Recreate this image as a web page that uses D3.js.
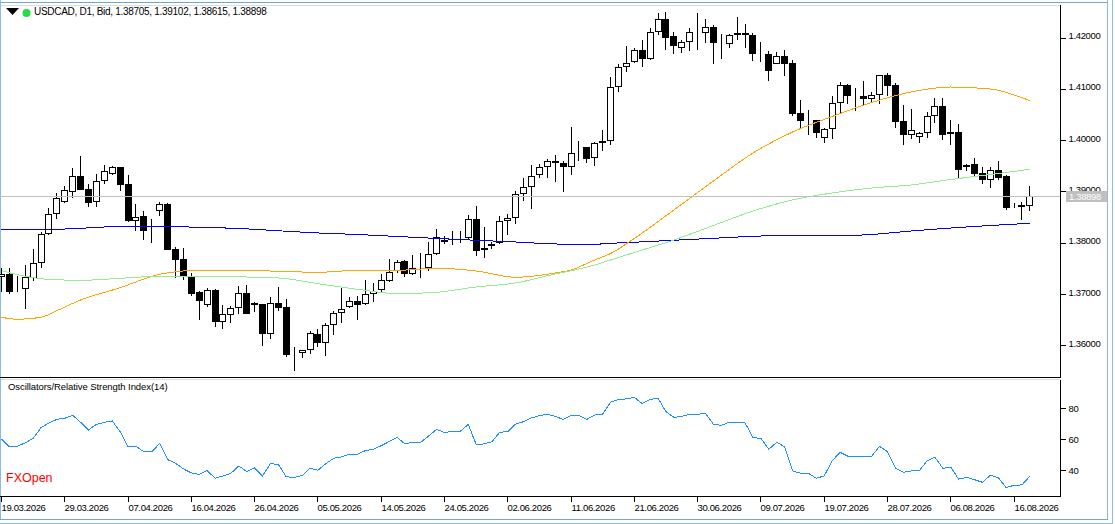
<!DOCTYPE html>
<html>
<head>
<meta charset="utf-8">
<title>USDCAD D1</title>
<script src="https://cdn.jsdelivr.net/npm/d3@7"></script>
<style>
  html, body { margin: 0; padding: 0; background: #fff; overflow: hidden; }
  text { font-family: "Liberation Sans", Arial, sans-serif; font-size: 9.5px; fill: #000; }
  .axis path { display: none; }
  .axis line { stroke: #000; shape-rendering: crispEdges; }
  .axis text { letter-spacing: -0.35px; }
</style>
</head>
<body>
<div id="chart"></div>
<script>
// Values, one entry per daily bar
const priceOpen = [
  1.37318,1.37383,1.37110,1.37097,1.37312,1.37591,1.38156,1.38545,1.38779,1.38987,1.39286,1.39032,1.38779,1.39188,1.39325,1.39461,1.39130,1.38422,1.38506,1.38240,
  1.38604,1.38740,1.37864,1.37669,1.37325,1.37032,1.36786,1.37071,1.36454,1.36591,1.36714,1.37006,1.36818,1.36792,1.36221,1.36812,1.36740,1.35837,1.35837,1.35896,
  1.36214,1.36045,1.36383,1.36617,1.36734,1.36850,1.36792,1.36987,1.37065,1.37240,1.37435,1.37630,1.37390,1.37493,1.37493,1.37766,1.38045,1.38045,1.38071,1.38078,
  1.38455,1.37844,1.37922,1.37980,1.38409,1.38467,1.38935,1.39071,1.39305,1.39461,1.39578,1.39539,1.39461,1.39734,1.39851,1.39636,1.39929,1.39968,1.41020,1.41409,
  1.41507,1.41740,1.41578,1.42091,1.42344,1.42013,1.41779,1.41896,1.42091,1.42072,1.42189,1.41896,1.41857,1.42033,1.42072,1.42033,1.41682,1.41663,1.41481,1.41624,
  1.41487,1.40513,1.40370,1.40377,1.40026,1.40201,1.40708,1.41059,1.40864,1.40851,1.40786,1.40864,1.41253,1.41059,1.40357,1.40097,1.40046,1.40123,1.40455,1.40649,
  1.40104,1.40143,1.39461,1.39520,1.39344,1.39208,1.39403,1.39286,1.38710,1.38721,1.38705
];
const priceHigh = [
  1.37493,1.37493,1.37344,1.37558,1.37864,1.38208,1.38662,1.38955,1.39091,1.39442,1.39675,1.39130,1.39331,1.39500,1.39487,1.39474,1.39305,1.38740,1.38604,1.38448,
  1.38779,1.38760,1.37903,1.37883,1.37396,1.37045,1.37104,1.37091,1.36779,1.36753,1.37143,1.37162,1.36837,1.36800,1.36928,1.37123,1.36896,1.35954,1.35900,1.36266,
  1.36305,1.36422,1.36656,1.37117,1.36928,1.36954,1.37266,1.37201,1.37383,1.37669,1.37656,1.37656,1.37747,1.37786,1.38006,1.38253,1.38123,1.38214,1.38214,1.38532,
  1.38701,1.38299,1.38013,1.38506,1.38552,1.39000,1.39247,1.39500,1.39520,1.39617,1.39695,1.39578,1.40240,1.39968,1.39860,1.39948,1.40182,1.41214,1.41468,1.41825,
  1.41779,1.41935,1.42169,1.42461,1.42481,1.42091,1.41935,1.42169,1.42461,1.42344,1.42228,1.42052,1.42059,1.42383,1.42247,1.42072,1.41896,1.41721,1.41702,1.41740,
  1.41546,1.40766,1.40572,1.40385,1.40221,1.40844,1.41117,1.41085,1.41000,1.41137,1.40922,1.41260,1.41292,1.41098,1.40669,1.40591,1.40143,1.40533,1.40805,1.40805,
  1.40377,1.40299,1.39520,1.39636,1.39461,1.39461,1.39578,1.39305,1.38760,1.38779,1.39102
];
const priceLow = [
  1.37039,1.37000,1.37039,1.36708,1.37253,1.37506,1.38150,1.38448,1.38760,1.38857,1.39015,1.38695,1.38695,1.39136,1.39305,1.39006,1.38403,1.38227,1.38052,1.37993,
  1.38519,1.37850,1.37312,1.37273,1.36961,1.36487,1.36747,1.36357,1.36311,1.36435,1.36604,1.36604,1.36649,1.35987,1.36123,1.36669,1.35772,1.35500,1.35753,1.35831,
  1.35967,1.35792,1.36201,1.36435,1.36730,1.36487,1.36785,1.36844,1.37032,1.37235,1.37396,1.37331,1.37364,1.37312,1.37441,1.37760,1.37967,1.37954,1.37993,1.38045,
  1.37740,1.37701,1.37870,1.37967,1.38143,1.38357,1.38812,1.38656,1.39247,1.39253,1.39182,1.38987,1.39318,1.39591,1.39552,1.39494,1.39786,1.39903,1.40935,1.41325,
  1.41487,1.41422,1.41559,1.42046,1.41747,1.41676,1.41695,1.41734,1.41747,1.41890,1.41481,1.41572,1.41792,1.41942,1.41792,1.41539,1.41520,1.41150,1.41475,1.41247,
  1.40468,1.40221,1.40097,1.40039,1.39942,1.40020,1.40513,1.40695,1.40552,1.40649,1.40714,1.40695,1.40844,1.40221,1.39903,1.40020,1.39942,1.40039,1.40331,1.40000,
  1.39903,1.39227,1.39390,1.39279,1.39136,1.39058,1.39221,1.38630,1.38662,1.38442,1.38615
];
const priceClose = [
  1.37376,1.37032,1.37100,1.37318,1.37591,1.38156,1.38545,1.38857,1.39013,1.39286,1.39019,1.38773,1.39188,1.39383,1.39461,1.39123,1.38422,1.38500,1.38227,1.38214,
  1.38740,1.37857,1.37662,1.37318,1.37000,1.36863,1.37065,1.36454,1.36597,1.36714,1.37006,1.36610,1.36786,1.36221,1.36812,1.36727,1.35811,1.35818,1.35896,1.36227,
  1.36045,1.36383,1.36617,1.36695,1.36850,1.36786,1.36987,1.37058,1.37260,1.37415,1.37623,1.37390,1.37493,1.37480,1.37766,1.38110,1.38013,1.38032,1.38045,1.38448,
  1.37838,1.37883,1.37974,1.38409,1.38467,1.38935,1.39071,1.39286,1.39461,1.39578,1.39539,1.39474,1.39734,1.39740,1.39630,1.39929,1.39968,1.41020,1.41409,1.41487,
  1.41740,1.41578,1.42091,1.42344,1.41987,1.41831,1.41896,1.42091,1.42072,1.42189,1.41890,1.41877,1.42033,1.42072,1.42033,1.41676,1.41663,1.41344,1.41624,1.41481,
  1.40507,1.40370,1.40376,1.40123,1.40201,1.40708,1.41059,1.40857,1.40844,1.40799,1.40864,1.41253,1.41052,1.40351,1.40097,1.40182,1.40123,1.40455,1.40649,1.40097,
  1.40143,1.39416,1.39513,1.39338,1.39208,1.39403,1.39260,1.38662,1.38714,1.38695,1.38898
];

// Moving averages, sampled every few bars
const maBars = [0,2,5,7,10,15,20,25,30,35,40,45,50,55,60,65,70,72,75,77,80,85,90,95,100,105,110,115,120,125,130];
const maBlue = [1.38250,1.38246,1.38250,1.38254,1.38273,1.38308,1.38308,1.38293,1.38269,1.38225,1.38182,1.38153,1.38114,1.38075,1.38040,1.38006,1.37968,1.37962,1.37962,1.37981,1.38001,1.38040,1.38078,1.38117,1.38137,1.38123,1.38153,1.38221,1.38279,1.38328,1.38371];
const maOrange = [1.36539,1.36500,1.36539,1.36668,1.36876,1.37116,1.37377,1.37455,1.37455,1.37436,1.37416,1.37455,1.37455,1.37494,1.37441,1.37319,1.37402,1.37461,1.37656,1.37782,1.38075,1.38630,1.39195,1.39740,1.40149,1.40451,1.40724,1.40929,1.41026,1.40987,1.40759];
const maGreen = [1.37447,1.37371,1.37291,1.37270,1.37260,1.37299,1.37338,1.37325,1.37325,1.37305,1.37194,1.37085,1.36999,1.37026,1.37130,1.37208,1.37383,1.37445,1.37558,1.37656,1.37802,1.38045,1.38328,1.38610,1.38825,1.38961,1.39058,1.39117,1.39224,1.39321,1.39423];

const rsiValues = [
  59.9,54.8,55.2,57.4,60.3,67.2,70.2,72.5,73.2,75.1,70.6,65.7,69.3,70.6,71.5,64.6,54.8,55.4,51.6,51.6,
  57.1,46.7,44.3,40.7,38.1,37.1,39.6,34.7,36.2,37.9,42.6,39.0,41.3,36.2,44.1,43.5,35.6,35.3,36.4,41.1,
  39.8,44.1,47.5,48.4,50.1,50.1,52.4,53.3,55.6,58.2,61.0,56.7,57.8,57.8,61.8,66.1,64.0,64.8,64.8,69.3,
  56.5,56.7,58.2,64.2,64.6,69.5,71.0,73.4,74.9,75.7,74.4,72.5,75.1,75.1,72.5,75.3,75.9,83.6,85.3,85.6,
  86.6,82.6,85.3,86.0,77.4,73.8,74.4,75.7,75.7,76.4,69.3,68.7,70.6,70.6,70.2,60.8,60.3,53.3,57.8,54.8,
  39.4,37.9,37.9,34.7,36.2,45.8,51.4,48.8,48.4,48.4,48.8,55.2,51.8,41.3,38.5,39.4,39.4,45.8,48.2,41.1,
  41.8,34.1,35.3,33.8,32.1,36.6,35.1,28.7,30.2,30.4,36.0
];

// Axis labels
const dateTickBars = [0,8,16,24,32,40,48,56,64,72,80,88,96,104,112,120,128];
const dateLabels = ["19.03.2026","29.03.2026","07.04.2026","16.04.2026","26.04.2026","05.05.2026","14.05.2026","24.05.2026","02.06.2026","11.06.2026","21.06.2026","30.06.2026","09.07.2026","19.07.2026","28.07.2026","06.08.2026","16.08.2026"];
const priceTicks = [1.36,1.37,1.38,1.39,1.40,1.41,1.42];
const rsiTicks = [40,60,80];
const lastPrice = 1.38898;
const headerText = "USDCAD, D1, Bid, 1.38705, 1.39102, 1.38615, 1.38898";
const rsiTitle = "Oscillators/Relative Strength Index(14)";

const width = 1115, height = 524;
const axisX = 1060;

const svg = d3.select("#chart").append("svg")
  .attr("width", width)
  .attr("height", height)
  .style("display", "block");

// Bar positions land on whole pixels, like the terminal does
const x = d3.scaleLinear().domain([0, 130]).range([1.5, 1029.865]);
const barX = (i) => Math.floor(x(i)) + 0.5;

const yPrice = d3.scaleLinear().domain([1.35376, 1.42604]).range([377, 6]);
const yRsi = d3.scaleLinear().domain([23.3, 98.4]).range([496, 379]);

const hline = (y, x1, x2, color) => svg.append("line")
  .attr("x1", x1).attr("x2", x2).attr("y1", y).attr("y2", y)
  .attr("stroke", color).attr("shape-rendering", "crispEdges");
const vline = (xp, y1, y2, color) => svg.append("line")
  .attr("x1", xp).attr("x2", xp).attr("y1", y1).attr("y2", y2)
  .attr("stroke", color).attr("shape-rendering", "crispEdges");

// Window frame around the chart
hline(2.5, 0, 1108, "#6fa8d6");
hline(5.5, 0, 1061, "#dddddd");
hline(379.5, 0, 1061, "#dddddd");
vline(0.5, 0, 519, "#8fbcdc");
vline(1107.5, 0, 519, "#8fbcdc");
vline(1112.5, 0, 523, "#8fbcdc");
hline(519.5, 0, 1108, "#6fa8d6");
hline(523.5, 0, 1113, "#8fbcdc");

// Candles: wick first, body on top
const candles = svg.append("g").selectAll("g")
  .data(d3.range(priceOpen.length))
  .enter().append("g");

candles.append("line")
  .attr("x1", barX).attr("x2", barX)
  .attr("y1", (i) => Math.round(yPrice(priceHigh[i])))
  .attr("y2", (i) => Math.round(yPrice(priceLow[i])))
  .attr("stroke", "#000")
  .attr("shape-rendering", "crispEdges");

const bodyTop = (i) => Math.round(yPrice(Math.max(priceOpen[i], priceClose[i]))) + 0.5;
const bodyBottom = (i) => Math.round(yPrice(Math.min(priceOpen[i], priceClose[i]))) - 0.5;

candles.append("rect")
  .attr("x", (i) => barX(i) - 3)
  .attr("width", 6)
  .attr("y", bodyTop)
  .attr("height", (i) => Math.max(0, bodyBottom(i) - bodyTop(i)))
  .attr("fill", (i) => (priceClose[i] >= priceOpen[i] ? "#fff" : "#000"))
  .attr("stroke", "#000")
  .attr("shape-rendering", "crispEdges");

// Moving averages
const maLine = d3.line()
  .x((d, i) => x(maBars[i]))
  .y((d) => yPrice(d))
  .curve(d3.curveMonotoneX);

[[maBlue, "#0000ff"], [maOrange, "#ffa500"], [maGreen, "#90ee90"]].forEach(([values, color]) => {
  svg.append("path")
    .attr("d", maLine(values))
    .attr("fill", "none")
    .attr("stroke", color)
    .attr("shape-rendering", "crispEdges");
});

// Last price line
hline(Math.floor(yPrice(lastPrice)) + 0.5, 0, axisX, "#c0c0c0");

// Panel borders
hline(377.5, 0, axisX + 1, "#000");
hline(496.5, 0, axisX + 1, "#000");
vline(axisX + 0.5, 5, 378, "#000");
vline(axisX + 0.5, 380, 497, "#000");

// Price axis
const priceAxis = svg.append("g")
  .attr("class", "axis")
  .attr("transform", `translate(${axisX + 0.5},0.5)`)
  .call(d3.axisRight(yPrice).tickValues(priceTicks).tickSize(5).tickPadding(3).tickFormat(d3.format(".5f")));
priceAxis.selectAll("text").attr("dy", "0.1em");

// Tag with the last price covers the axis text behind it
svg.append("rect")
  .attr("x", 1066).attr("y", Math.round(yPrice(lastPrice)) - 5)
  .attr("width", 41).attr("height", 11)
  .attr("fill", "#c0c0c0");
svg.append("text")
  .attr("x", 1069).attr("y", Math.round(yPrice(lastPrice)) + 3.5)
  .style("fill", "#fff")
  .style("letter-spacing", "-0.35px")
  .text(d3.format(".5f")(lastPrice));

// RSI panel
const rsiLine = d3.line()
  .x((d, i) => x(i))
  .y((d) => yRsi(d));

svg.append("path")
  .attr("d", rsiLine(rsiValues))
  .attr("fill", "none")
  .attr("stroke", "#1e90ff")
  .attr("shape-rendering", "crispEdges");

const rsiAxis = svg.append("g")
  .attr("class", "axis")
  .attr("transform", `translate(${axisX + 0.5},0.5)`)
  .call(d3.axisRight(yRsi).tickValues(rsiTicks).tickSize(5).tickPadding(3).tickFormat(d3.format("d")));

// Date axis, labels start at their tick
const dateAxis = svg.append("g")
  .attr("class", "axis")
  .attr("transform", "translate(0,496.5)")
  .call(d3.axisBottom(x).tickValues(dateTickBars).tickSize(5).tickPadding(3).offset(0)
    .tickFormat((d, i) => dateLabels[i]));
dateAxis.selectAll(".tick").attr("transform", (d) => `translate(${barX(d)},0)`);
dateAxis.selectAll("text").attr("text-anchor", "start");

// Header and panel captions
svg.append("path")
  .attr("d", d3.line()([[6, 8], [19, 8], [12.5, 15]]) + "Z")
  .attr("fill", "#000");
svg.append("circle")
  .attr("cx", 26.5).attr("cy", 13).attr("r", 4)
  .attr("fill", "#22dd44");
svg.append("text").attr("x", 34).attr("y", 15)
  .style("font-size", "10px").style("letter-spacing", "-0.29px").text(headerText);
svg.append("text").attr("x", 8).attr("y", 389.5)
  .style("letter-spacing", "-0.08px").text(rsiTitle);
svg.append("text").attr("x", 6).attr("y", 482).style("font-size", "12.5px").style("fill", "#ff0000").text("FXOpen");
</script>
</body>
</html>
